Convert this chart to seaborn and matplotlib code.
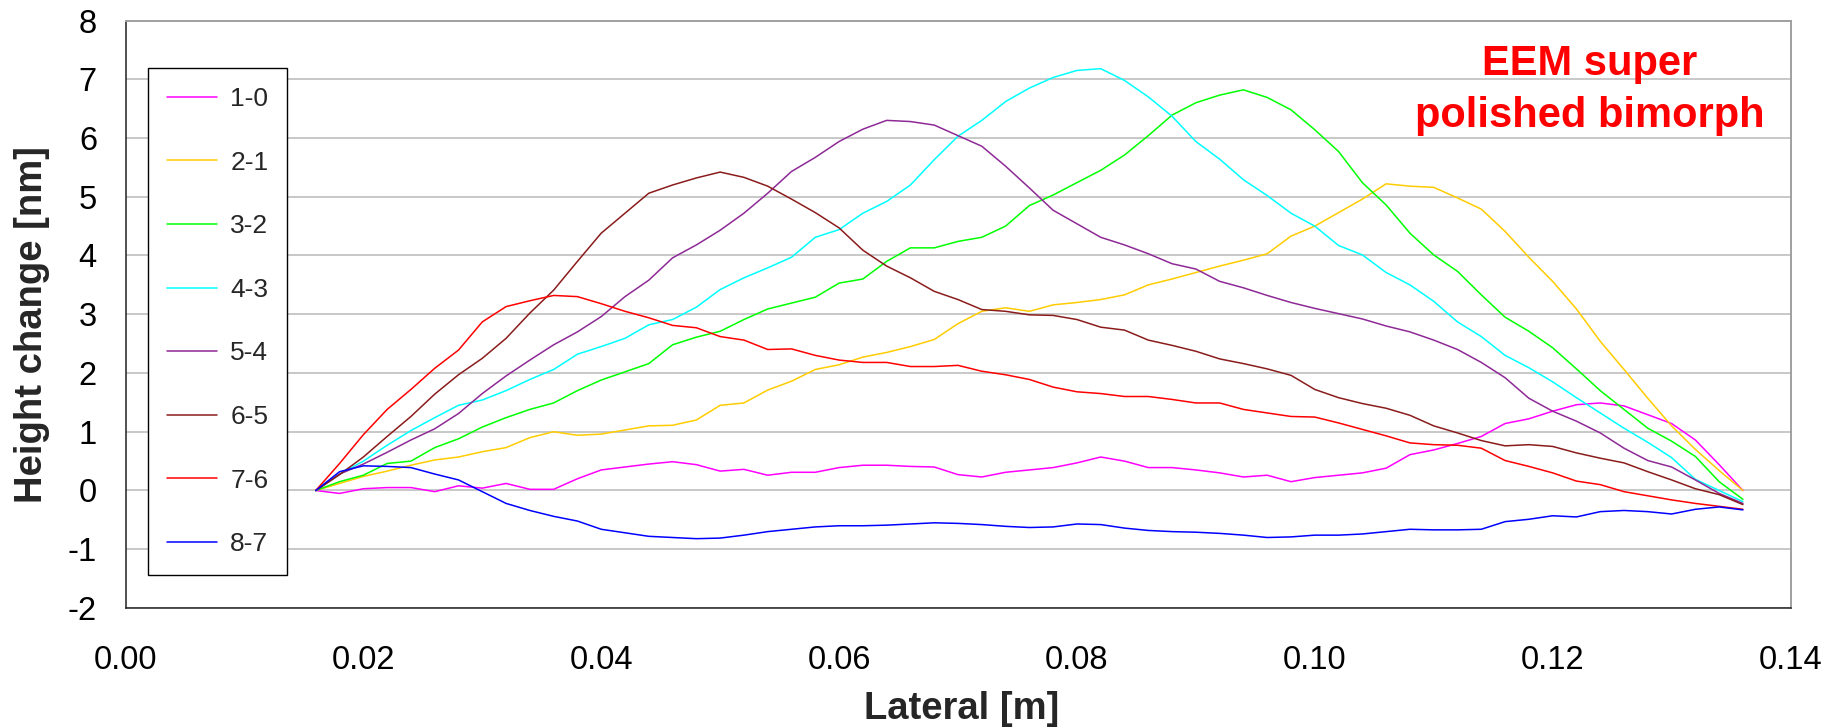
import numpy as np
import pandas as pd
import matplotlib
matplotlib.use("Agg")
import matplotlib.pyplot as plt
import seaborn as sns

# ---------------- data ----------------
lateral = [0.016, 0.018, 0.020, 0.022, 0.024, 0.026, 0.028, 0.030, 0.032, 0.034,
           0.036, 0.038, 0.040, 0.042, 0.044, 0.046, 0.048, 0.050, 0.052, 0.054,
           0.056, 0.058, 0.060, 0.062, 0.064, 0.066, 0.068, 0.070, 0.072, 0.074,
           0.076, 0.078, 0.080, 0.082, 0.084, 0.086, 0.088, 0.090, 0.092, 0.094,
           0.096, 0.098, 0.100, 0.102, 0.104, 0.106, 0.108, 0.110, 0.112, 0.114,
           0.116, 0.118, 0.120, 0.122, 0.124, 0.126, 0.128, 0.130, 0.132, 0.134,
           0.136]

h_1_0 = [0.00, -0.05, 0.03, 0.05, 0.05, -0.02, 0.08, 0.04, 0.12, 0.02,
         0.02, 0.20, 0.35, 0.40, 0.45, 0.49, 0.44, 0.33, 0.36, 0.26,
         0.31, 0.31, 0.39, 0.43, 0.43, 0.41, 0.40, 0.27, 0.23, 0.31,
         0.35, 0.39, 0.47, 0.57, 0.50, 0.39, 0.39, 0.35, 0.30, 0.23,
         0.26, 0.15, 0.22, 0.26, 0.30, 0.38, 0.61, 0.69, 0.80, 0.92,
         1.14, 1.22, 1.35, 1.46, 1.49, 1.44, 1.29, 1.14, 0.86, 0.44,
         0.00]

h_2_1 = [0.00, 0.12, 0.24, 0.33, 0.43, 0.52, 0.57, 0.66, 0.73, 0.90,
         1.00, 0.94, 0.96, 1.03, 1.10, 1.11, 1.20, 1.45, 1.49, 1.71,
         1.86, 2.06, 2.14, 2.27, 2.35, 2.45, 2.57, 2.84, 3.05, 3.11,
         3.05, 3.16, 3.20, 3.25, 3.33, 3.50, 3.60, 3.71, 3.82, 3.92,
         4.03, 4.33, 4.50, 4.73, 4.96, 5.22, 5.18, 5.16, 4.98, 4.79,
         4.41, 3.97, 3.56, 3.09, 2.54, 2.06, 1.57, 1.10, 0.70, 0.34,
         0.00]

h_3_2 = [0.00, 0.15, 0.26, 0.46, 0.50, 0.73, 0.88, 1.08, 1.24, 1.38,
         1.49, 1.70, 1.88, 2.02, 2.16, 2.48, 2.61, 2.71, 2.91, 3.09,
         3.19, 3.29, 3.53, 3.60, 3.90, 4.13, 4.13, 4.24, 4.31, 4.50,
         4.85, 5.03, 5.24, 5.45, 5.71, 6.04, 6.39, 6.60, 6.73, 6.82,
         6.69, 6.48, 6.14, 5.77, 5.24, 4.86, 4.38, 4.01, 3.73, 3.33,
         2.95, 2.71, 2.43, 2.07, 1.70, 1.38, 1.06, 0.84, 0.58, 0.15,
         -0.15]

h_4_3 = [0.00, 0.28, 0.50, 0.77, 1.02, 1.24, 1.45, 1.54, 1.70, 1.89,
         2.06, 2.32, 2.45, 2.59, 2.82, 2.91, 3.12, 3.42, 3.62, 3.79,
         3.97, 4.31, 4.44, 4.72, 4.92, 5.20, 5.63, 6.03, 6.30, 6.62,
         6.85, 7.03, 7.15, 7.18, 6.98, 6.70, 6.37, 5.94, 5.64, 5.29,
         5.02, 4.72, 4.50, 4.17, 4.01, 3.71, 3.50, 3.22, 2.87, 2.62,
         2.30, 2.09, 1.85, 1.58, 1.32, 1.06, 0.82, 0.56, 0.19, 0.00,
         -0.19]

h_5_4 = [0.00, 0.28, 0.45, 0.65, 0.86, 1.05, 1.31, 1.65, 1.95, 2.22,
         2.48, 2.70, 2.96, 3.30, 3.58, 3.96, 4.18, 4.43, 4.72, 5.06,
         5.43, 5.67, 5.94, 6.15, 6.30, 6.28, 6.22, 6.04, 5.86, 5.52,
         5.15, 4.77, 4.54, 4.31, 4.18, 4.03, 3.86, 3.77, 3.56, 3.45,
         3.32, 3.20, 3.10, 3.01, 2.92, 2.80, 2.70, 2.56, 2.40, 2.18,
         1.92, 1.57, 1.35, 1.18, 0.98, 0.72, 0.51, 0.40, 0.18, -0.05,
         -0.22]

h_6_5 = [0.00, 0.27, 0.57, 0.92, 1.26, 1.64, 1.97, 2.25, 2.59, 3.02,
         3.41, 3.90, 4.38, 4.72, 5.06, 5.20, 5.32, 5.42, 5.33, 5.18,
         4.96, 4.73, 4.47, 4.09, 3.82, 3.62, 3.39, 3.25, 3.08, 3.05,
         2.99, 2.98, 2.91, 2.78, 2.73, 2.56, 2.47, 2.37, 2.24, 2.16,
         2.07, 1.96, 1.72, 1.58, 1.48, 1.40, 1.28, 1.10, 0.98, 0.85,
         0.76, 0.78, 0.75, 0.64, 0.55, 0.47, 0.32, 0.18, 0.03, -0.07,
         -0.24]

h_7_6 = [0.00, 0.46, 0.95, 1.38, 1.72, 2.08, 2.39, 2.87, 3.13, 3.23,
         3.32, 3.30, 3.18, 3.05, 2.94, 2.81, 2.77, 2.62, 2.56, 2.40,
         2.41, 2.30, 2.22, 2.18, 2.18, 2.11, 2.11, 2.13, 2.03, 1.97,
         1.89, 1.76, 1.68, 1.65, 1.60, 1.60, 1.55, 1.49, 1.49, 1.38,
         1.32, 1.26, 1.25, 1.15, 1.04, 0.93, 0.81, 0.78, 0.77, 0.72,
         0.51, 0.41, 0.30, 0.16, 0.10, -0.02, -0.09, -0.16, -0.22, -0.27,
         -0.32]

h_8_7 = [0.00, 0.32, 0.42, 0.41, 0.39, 0.28, 0.18, -0.02, -0.22, -0.34,
         -0.44, -0.52, -0.66, -0.72, -0.78, -0.80, -0.82, -0.81, -0.76, -0.70,
         -0.66, -0.62, -0.60, -0.60, -0.59, -0.57, -0.55, -0.56, -0.58, -0.61,
         -0.63, -0.62, -0.57, -0.58, -0.64, -0.68, -0.70, -0.71, -0.73, -0.76,
         -0.80, -0.79, -0.76, -0.76, -0.74, -0.70, -0.66, -0.67, -0.67, -0.66,
         -0.53, -0.49, -0.43, -0.45, -0.36, -0.34, -0.36, -0.40, -0.32, -0.28,
         -0.33]

series_names = ["1-0", "2-1", "3-2", "4-3", "5-4", "6-5", "7-6", "8-7"]
series_values = [h_1_0, h_2_1, h_3_2, h_4_3, h_5_4, h_6_5, h_7_6, h_8_7]
series_colors = ["#FF00FF", "#FFCC00", "#00FF00", "#00FFFF",
                 "#8E2A96", "#8A1C1C", "#FF0000", "#0000FF"]

x_ticks = [0.00, 0.02, 0.04, 0.06, 0.08, 0.10, 0.12, 0.14]
y_ticks = [-2, -1, 0, 1, 2, 3, 4, 5, 6, 7, 8]

title_lines = ["EEM super", "polished bimorph"]

# ---------------- build long table ----------------
frames = []
for name, vals in zip(series_names, series_values):
    frames.append(pd.DataFrame({"Lateral": lateral, "Height": vals, "Pair": name}))
df = pd.concat(frames, ignore_index=True)

# ---------------- style ----------------
sns.set_style("white")
plt.rcParams["font.family"] = ["Liberation Sans", "DejaVu Sans"]

fig = plt.figure(figsize=(18.37, 7.28), dpi=100)
ax = fig.add_axes([0.06832, 0.16484, 0.90637, 0.80700])

sns.lineplot(data=df, x="Lateral", y="Height", hue="Pair",
             hue_order=series_names,
             palette=dict(zip(series_names, series_colors)),
             estimator=None, sort=False, linewidth=1.1, ax=ax)

ax.set_xlim(0.0, 0.14)
ax.set_ylim(-2, 8)
ax.set_xticks(x_ticks)
ax.set_xticklabels([f"{v:.2f}" for v in x_ticks])
ax.set_yticks(y_ticks)
ax.set_yticklabels([str(v) for v in y_ticks])

ax.yaxis.grid(True, color="#c4c4c4", linewidth=1.3)
ax.xaxis.grid(False)
ax.set_axisbelow(True)

for side in ["left", "bottom"]:
    ax.spines[side].set_color("#202020")
    ax.spines[side].set_linewidth(1.1)
for side in ["top", "right"]:
    ax.spines[side].set_color("#a0a0a0")
    ax.spines[side].set_linewidth(1.4)

ax.tick_params(axis="both", direction="out", length=8.6, width=1.1,
               color="#202020", labelsize=23.5, labelcolor="black")
ax.tick_params(axis="x", pad=18)
ax.tick_params(axis="y", pad=12)

ax.set_xlabel("Lateral [m]", fontsize=27.5, fontweight="bold")
ax.set_ylabel("Height change [nm]", fontsize=27.5, fontweight="bold")
ax.xaxis.set_label_coords(0.502, -0.141)
ax.yaxis.set_label_coords(-0.0455, 0.482)

ax.text(0.1231, 7.072, title_lines[0], color="red", fontsize=30,
        fontweight="bold", ha="center", va="baseline")
ax.text(0.1231, 6.192, title_lines[1], color="red", fontsize=30,
        fontweight="bold", ha="center", va="baseline")

handles, labels = ax.get_legend_handles_labels()
leg = ax.legend(handles, labels, loc="upper left",
                bbox_to_anchor=(0.0135, 0.919), borderaxespad=0,
                fontsize=19, frameon=True, fancybox=False,
                edgecolor="black", framealpha=1, borderpad=0.72,
                labelspacing=1.5, handlelength=1.9, handletextpad=0.5)
leg.get_frame().set_linewidth(1.0)
for ln in leg.get_lines():
    ln.set_linewidth(1.1)

fig.savefig("out.png", dpi=100)
